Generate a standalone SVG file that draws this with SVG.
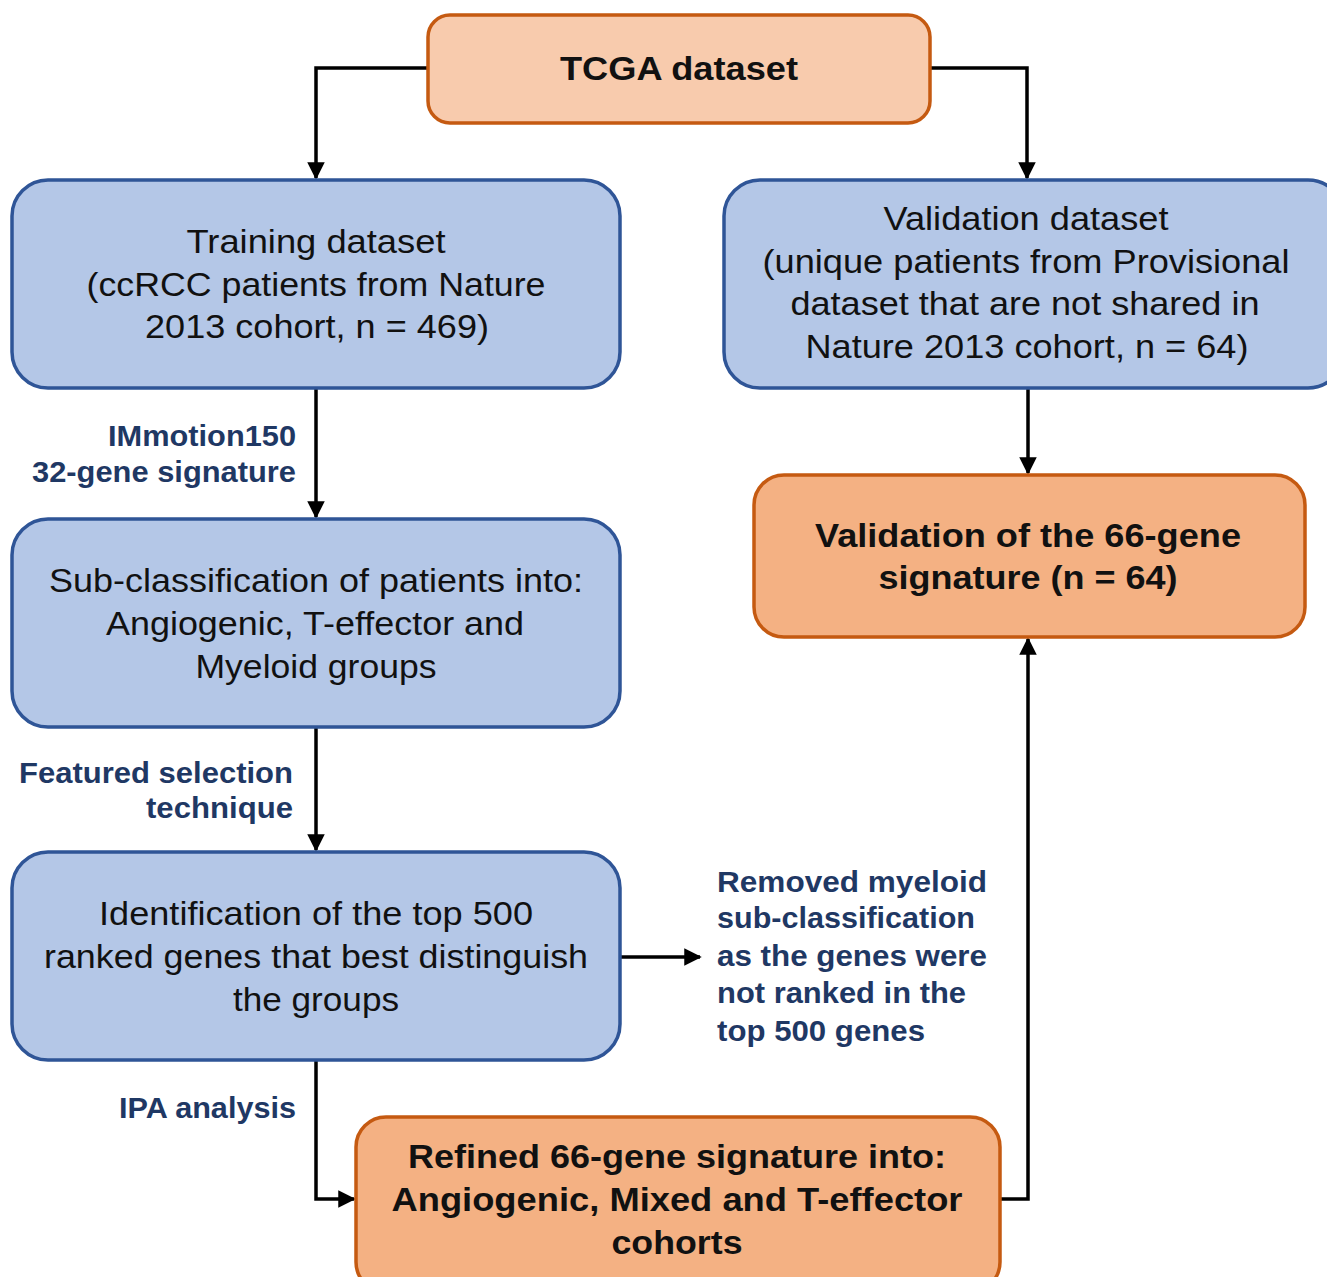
<svg xmlns="http://www.w3.org/2000/svg" width="1327" height="1277" viewBox="0 0 1327 1277">
<defs>
<marker id="ah" viewBox="0 0 10 10" refX="9" refY="5" markerWidth="5" markerHeight="5" markerUnits="strokeWidth" orient="auto">
<path d="M0,0 L10,5 L0,10 z" fill="#000"/>
</marker>
<style>
.blue{fill:#B4C7E7;stroke:#2F5597;stroke-width:3.5}
.peach{fill:#F8CBAD;stroke:#C55A11;stroke-width:3.5}
.orange{fill:#F4B183;stroke:#C55A11;stroke-width:3.5}
.t{font-family:"Liberation Sans",Arial,sans-serif;font-size:33px;fill:#111;text-anchor:middle}
.b{font-family:"Liberation Sans",Arial,sans-serif;font-size:33px;font-weight:bold;fill:#111;text-anchor:middle}
.lbl{font-family:"Liberation Sans",Arial,sans-serif;font-size:29px;font-weight:bold;fill:#1F3864}
.c{fill:none;stroke:#000;stroke-width:3.5;marker-end:url(#ah)}
</style>
</defs>
<rect width="1327" height="1277" fill="#fff"/>
<g id="connectors">
<path class="c" d="M428,68 H316 V178"/>
<path class="c" d="M930,68 H1027 V178"/>
<path class="c" d="M316,388 V517"/>
<path class="c" d="M316,727 V850"/>
<path class="c" d="M620,957 H700"/>
<path class="c" d="M316,1060 V1199 H354"/>
<path class="c" d="M1000,1199 H1028 V639"/>
<path class="c" d="M1028,388 V473"/>
</g>
<g id="tcga">
<rect class="peach" x="428" y="15" width="502" height="108" rx="22"/>
<text class="b" x="679" y="80" textLength="238" lengthAdjust="spacingAndGlyphs">TCGA dataset</text>
</g>
<g id="training">
<rect class="blue" x="12" y="180" width="608" height="208" rx="36"/>
<text class="t" x="316" y="253" textLength="259" lengthAdjust="spacingAndGlyphs">Training  dataset</text>
<text class="t" x="316" y="296" textLength="459" lengthAdjust="spacingAndGlyphs">(ccRCC patients from Nature</text>
<text class="t" x="317" y="338" textLength="344" lengthAdjust="spacingAndGlyphs">2013 cohort, n = 469)</text>
</g>
<g id="validation-dataset">
<rect class="blue" x="724" y="180" width="620" height="208" rx="36"/>
<text class="t" x="1026" y="230" textLength="285" lengthAdjust="spacingAndGlyphs">Validation  dataset</text>
<text class="t" x="1026" y="273" textLength="527" lengthAdjust="spacingAndGlyphs">(unique  patients from Provisional</text>
<text class="t" x="1025" y="315" textLength="469" lengthAdjust="spacingAndGlyphs">dataset that are not shared in</text>
<text class="t" x="1027" y="358" textLength="443" lengthAdjust="spacingAndGlyphs">Nature 2013 cohort, n = 64)</text>
</g>
<g id="subclass">
<rect class="blue" x="12" y="519" width="608" height="208" rx="36"/>
<text class="t" x="316" y="592" textLength="534" lengthAdjust="spacingAndGlyphs">Sub-classification of patients into:</text>
<text class="t" x="315" y="635" textLength="418" lengthAdjust="spacingAndGlyphs">Angiogenic,  T-effector and</text>
<text class="t" x="316" y="678" textLength="241" lengthAdjust="spacingAndGlyphs">Myeloid groups</text>
</g>
<g id="identification">
<rect class="blue" x="12" y="852" width="608" height="208" rx="36"/>
<text class="t" x="316" y="925" textLength="434" lengthAdjust="spacingAndGlyphs">Identification of the top 500</text>
<text class="t" x="316" y="968" textLength="544" lengthAdjust="spacingAndGlyphs">ranked genes that best distinguish</text>
<text class="t" x="316" y="1011" textLength="166" lengthAdjust="spacingAndGlyphs">the groups</text>
</g>
<g id="validation66">
<rect class="orange" x="754" y="475" width="551" height="162" rx="30"/>
<text class="b" x="1028" y="547" textLength="426" lengthAdjust="spacingAndGlyphs">Validation  of the 66-gene</text>
<text class="b" x="1028" y="589" textLength="299" lengthAdjust="spacingAndGlyphs">signature (n = 64)</text>
</g>
<g id="refined">
<rect class="orange" x="356" y="1117" width="644" height="175" rx="30"/>
<text class="b" x="677" y="1168" textLength="538" lengthAdjust="spacingAndGlyphs">Refined 66-gene signature into:</text>
<text class="b" x="677" y="1211" textLength="571" lengthAdjust="spacingAndGlyphs">Angiogenic, Mixed and T-effector</text>
<text class="b" x="677" y="1254" textLength="131" lengthAdjust="spacingAndGlyphs">cohorts</text>
</g>
<g id="labels">
<text class="lbl" x="108" y="446" textLength="188" lengthAdjust="spacingAndGlyphs">IMmotion150</text>
<text class="lbl" x="32" y="482" textLength="264" lengthAdjust="spacingAndGlyphs">32-gene signature</text>
<text class="lbl" x="19" y="783" textLength="274" lengthAdjust="spacingAndGlyphs">Featured selection</text>
<text class="lbl" x="146" y="818" textLength="147" lengthAdjust="spacingAndGlyphs">technique</text>
<text class="lbl" x="119" y="1118" textLength="177" lengthAdjust="spacingAndGlyphs">IPA analysis</text>
<text class="lbl" x="717" y="892" textLength="270" lengthAdjust="spacingAndGlyphs">Removed myeloid</text>
<text class="lbl" x="717" y="928" textLength="258" lengthAdjust="spacingAndGlyphs">sub-classification</text>
<text class="lbl" x="717" y="966" textLength="270" lengthAdjust="spacingAndGlyphs">as the genes were</text>
<text class="lbl" x="717" y="1003" textLength="249" lengthAdjust="spacingAndGlyphs">not ranked in the</text>
<text class="lbl" x="717" y="1041" textLength="208" lengthAdjust="spacingAndGlyphs">top 500 genes</text>
</g>
</svg>
